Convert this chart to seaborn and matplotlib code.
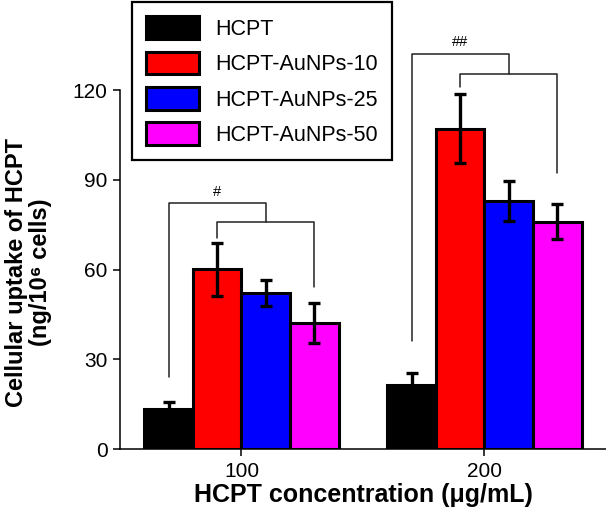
import pandas as pd
import matplotlib
matplotlib.use("Agg")
import matplotlib.pyplot as plt
import seaborn as sns

# Data
concentrations = ["100", "200"]
groups = ["HCPT", "HCPT-AuNPs-10", "HCPT-AuNPs-25", "HCPT-AuNPs-50"]
uptake_hcpt = [13.4, 21.4]
uptake_au10 = [60.1, 107.2]
uptake_au25 = [52.3, 83.0]
uptake_au50 = [42.1, 76.1]
err_hcpt = [2.3, 3.9]
err_au10 = [8.8, 11.5]
err_au25 = [4.3, 6.6]
err_au50 = [6.6, 5.9]
colors = ["#000000", "#ff0000", "#0000ff", "#ff00ff"]

# significance brackets (data units) per concentration
outer_top = [82.2, 132.3]
inner_top = [75.8, 125.6]
outer_leg_end = [24.2, 36.0]
inner_left_end = [70.5, 121.2]
inner_right_end = [54.3, 92.2]
sig_labels = ["#", "##"]

sns.set_style("ticks")
plt.rcParams["font.family"] = ["Liberation Sans", "DejaVu Sans"]
plt.rcParams["text.color"] = "black"
plt.rcParams["axes.labelcolor"] = "black"

rows = []
values = [uptake_hcpt, uptake_au10, uptake_au25, uptake_au50]
errors = [err_hcpt, err_au10, err_au25, err_au50]
for g, vals in zip(groups, values):
    for c, v in zip(concentrations, vals):
        rows.append({"conc": c, "group": g, "uptake": v})
df = pd.DataFrame(rows)

fig = plt.figure(figsize=(6.06, 5.17), dpi=100)
ax = fig.add_axes([0.198, 0.1315, 0.802, 0.8685])

sns.barplot(
    data=df, x="conc", y="uptake", hue="group", palette=colors,
    edgecolor="black", linewidth=2.2, width=0.8, errorbar=None,
    saturation=1, ax=ax, legend=False,
)

# error bars on top of the seaborn bars
centers = []
for cont, errs in zip(ax.containers, errors):
    xs = [b.get_x() + b.get_width() / 2 for b in cont]
    ys = [b.get_height() for b in cont]
    centers.append(xs)
    ax.errorbar(xs, ys, yerr=errs, fmt="none", ecolor="black",
                elinewidth=2.4, capsize=4, capthick=2.4, zorder=5)

# brackets
for i in range(len(concentrations)):
    xb, xr, xm = centers[0][i], centers[1][i], centers[3][i]
    xmid = (xr + xm) / 2
    lw, lc = 1.1, "#222222"
    ax.plot([xb, xb, xmid, xmid], [outer_leg_end[i], outer_top[i], outer_top[i], inner_top[i]],
            color=lc, lw=lw)
    ax.plot([xr, xr, xm, xm], [inner_left_end[i], inner_top[i], inner_top[i], inner_right_end[i]],
            color=lc, lw=lw)
    ax.text(xr, outer_top[i] + 3.9, sig_labels[i], ha="center", va="center", fontsize=10.5)

ax.set_xlim(-0.5, 1.5)
ax.set_ylim(0, 150.2)
ax.set_yticks([0, 30, 60, 90, 120])
ax.spines["left"].set_bounds(0, 120)
sns.despine(ax=ax)
for s in ["left", "bottom"]:
    ax.spines[s].set_linewidth(1.1)
    ax.spines[s].set_color("black")
ax.tick_params(axis="both", length=5, width=1.1, labelsize=15, colors="black", pad=4)

ax.set_xlabel("HCPT concentration (μg/mL)", fontsize=18, fontweight="bold")
ax.xaxis.label.set_va("center")
ax.xaxis.set_label_coords(0.5, -0.103)
ax.set_ylabel("Cellular uptake of HCPT\n(ng/10⁶ cells)", fontsize=17, fontweight="bold",
              linespacing=1.05)
ax.yaxis.label.set_va("center")
ax.yaxis.set_label_coords(-0.189, 0.393)

handles = [plt.Rectangle((0, 0), 1, 1, facecolor=c, edgecolor="black", linewidth=2.2)
           for c in colors]
leg = fig.legend(
    handles, groups, loc="upper left", bbox_to_anchor=(0.218, 0.996),
    bbox_transform=fig.transFigure, fontsize=15.5, frameon=True, fancybox=False,
    handlelength=2.45, handleheight=1.25, handletextpad=0.75, labelspacing=0.55,
    borderpad=0.65, borderaxespad=0,
)
leg.get_frame().set_edgecolor("black")
leg.get_frame().set_linewidth(1.6)
leg.get_frame().set_alpha(1)

fig.savefig("out.png", dpi=100)
